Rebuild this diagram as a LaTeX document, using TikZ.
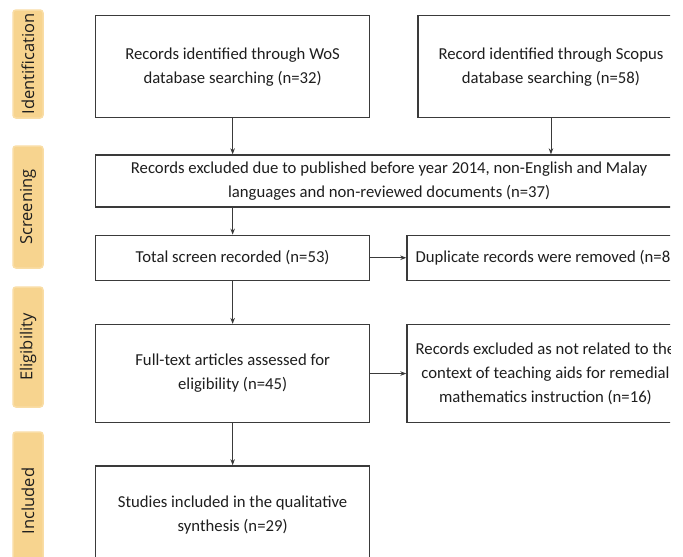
\documentclass[tikz,border=0pt]{standalone}
\usepackage{fontspec}
\setmainfont{Carlito}
\newfontfamily\stagefont{Open Sans}
\usepackage{xcolor}
\usepackage{tikz}
\usetikzlibrary{arrows.meta,positioning}

\definecolor{stagefill}{HTML}{F7D48F}
\definecolor{boxline}{HTML}{3A3A3A}
\definecolor{boxtext}{HTML}{1E1E1E}

\begin{document}
\begin{tikzpicture}[
  x=1pt, y=-1pt,
  node distance=36pt,
  box/.style={draw=boxline,line width=1.3pt,align=center,text=boxtext,
    font=\fontsize{16.7}{24}\selectfont,inner sep=4pt,minimum width=274pt},
  stage/.style={fill=stagefill,draw=stagefill!80!white,line width=1.5pt,rounded corners=3pt,
    rotate=90,minimum height=30pt,text=boxtext,font=\stagefont\fontsize{16.5}{18}\selectfont},
  arrow/.style={-{Stealth[length=6pt,width=4.5pt]}, line width=0.9pt, draw=boxline}
]
\useasboundingbox (0,0) rectangle (683,557);
\fill[white] (0,0) rectangle (683,557);

% stages on the left
\node[stage, minimum width=108pt] (lid) at (28,64) {Identification};
\node[stage, minimum width=122pt] (lscr) at (28,207) {Screening};
\node[stage, minimum width=120pt] (lelig) at (28,347) {Eligibility};
\node[stage, minimum width=138pt] (lincl) at (28,501) {Included};

\begin{scope}
\clip (0,0) rectangle (670,557);
\node[box, minimum height=102pt, anchor=north west] (wos) at (95,15)
  {Records identified through WoS\\database searching (n=32)};
\node[box, right=47pt of wos, minimum width=266pt, minimum height=102pt] (scopus)
  {Record identified through Scopus\\database searching (n=58)};

\node[box, below=36pt of wos.south west, anchor=north west, minimum width=587pt, minimum height=52pt] (excl)
  {Records excluded due to published before year 2014, non-English and Malay\\languages and non-reviewed documents (n=37)};

\node[box, below=27pt of excl.south west, anchor=north west, minimum height=45pt] (total)
  {Total screen recorded (n=53)};
\node[box, right=of total, minimum width=277pt, minimum height=45pt] (dup)
  {Duplicate records were removed (n=8)};

\node[box, below=43pt of total, minimum height=98pt] (full)
  {Full-text articles assessed for\\eligibility (n=45)};
\node[box, right=of full, minimum width=277pt, minimum height=98pt] (recx)
  {Records excluded as not related to the\\context of teaching aids for remedial\\mathematics instruction (n=16)};

\node[box, below=42pt of full, minimum height=98pt] (incl)
  {Studies included in the qualitative\\synthesis (n=29)};

\draw[arrow] (wos.south) -- (wos.south |- excl.north);
\draw[arrow] (scopus.south) -- (scopus.south |- excl.north);
\draw[arrow] (total.north |- excl.south) -- (total.north);
\draw[arrow] (total) -- (dup);
\draw[arrow] (total) -- (full);
\draw[arrow] (full) -- (recx);
\draw[arrow] (full) -- (incl);
\end{scope}
\end{tikzpicture}
\end{document}
